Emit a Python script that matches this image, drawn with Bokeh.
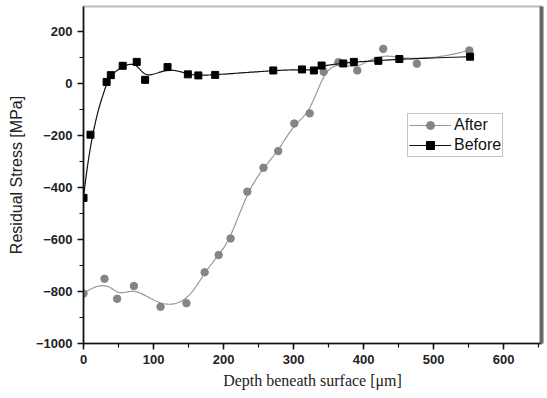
import numpy as np
from bokeh.plotting import figure
from bokeh.models import Range1d, LinearAxis, Legend, LegendItem, FixedTicker
from bokeh.embed import file_html
from bokeh.resources import INLINE

# Data
after_depth = [0, 30, 48, 72, 110, 147, 173, 193, 210, 234, 257, 278, 301, 323, 343, 364, 391, 428, 476, 551]
after_stress = [-808, -751, -828, -779, -859, -845, -726, -660, -596, -416, -324, -260, -154, -115, 45, 82, 50, 133, 76, 127]
before_depth = [0, 10, 33, 39, 56, 76, 88, 120, 149, 164, 188, 271, 312, 329, 340, 371, 386, 421, 451, 552]
before_stress = [-440, -197, 6, 32, 68, 83, 14, 63, 35, 31, 33, 50, 54, 50, 69, 77, 83, 87, 94, 103]

x_ticks = [0, 100, 200, 300, 400, 500, 600]
y_ticks = [-1000, -800, -600, -400, -200, 0, 200]


def bspline(xs, ys, n=400, k=3):
    """Clamped cubic B-spline with the data points as control points (smooth connect line)."""
    P = np.column_stack([xs, ys]).astype(float)
    m = len(P)
    knots = np.concatenate([[0.0] * k, np.arange(m - k + 1, dtype=float), [float(m - k)] * k])
    t = np.linspace(0, m - k, n)
    t[-1] -= 1e-9
    B = np.zeros((n, len(knots) - 1))
    for i in range(len(knots) - 1):
        B[:, i] = (knots[i] <= t) & (t < knots[i + 1])
    for p in range(1, k + 1):
        Bn = np.zeros((n, len(knots) - 1 - p))
        for i in range(len(knots) - 1 - p):
            d1 = knots[i + p] - knots[i]
            d2 = knots[i + p + 1] - knots[i + 1]
            a = (t - knots[i]) / d1 * B[:, i] if d1 > 0 else 0.0
            b = (knots[i + p + 1] - t) / d2 * B[:, i + 1] if d2 > 0 else 0.0
            Bn[:, i] = a + b
        B = Bn
    C = B @ P
    return C[:, 0], C[:, 1]


p = figure(width=547, height=398, output_backend="svg", toolbar_location=None,
           x_range=Range1d(0, 654), y_range=Range1d(-1000, 296),
           min_border_left=83, min_border_right=6, min_border_top=6, min_border_bottom=55)
p.background_fill_color = "white"
p.border_fill_color = "white"
p.outline_line_color = "#bbbbbb"
p.outline_line_width = 2
p.xgrid.visible = False
p.ygrid.visible = False

ax, ay = bspline(after_depth, after_stress)
bx, by = bspline(before_depth, before_stress)

la = p.line(ax, ay, line_color="#999999", line_width=1.2)
sa = p.scatter(after_depth, after_stress, marker="circle", size=7.5,
               fill_color="#858585", line_color="#858585")
lb = p.line(bx, by, line_color="#111111", line_width=1.2)
sb = p.scatter(before_depth, before_stress, marker="square", size=7,
               fill_color="#000000", line_color="#000000")

for axis in (p.xaxis[0], p.yaxis[0]):
    axis.axis_line_color = "#111111"
    axis.axis_line_width = 1.6
    axis.major_tick_line_color = "#111111"
    axis.major_tick_line_width = 1.5
    axis.minor_tick_line_color = "#111111"
    axis.minor_tick_line_width = 1.2
    axis.major_tick_in = 0
    axis.major_tick_out = 6
    axis.minor_tick_in = 0
    axis.minor_tick_out = 4
    axis.major_label_text_font = "Liberation Sans"
    axis.major_label_text_font_style = "bold"
    axis.major_label_text_font_size = "13px"
    axis.major_label_text_color = "#222222"
    axis.major_label_standoff = 5

p.xaxis[0].ticker = FixedTicker(ticks=x_ticks, minor_ticks=list(range(0, 651, 50)))
p.yaxis[0].ticker = FixedTicker(ticks=y_ticks, minor_ticks=list(range(-1000, 301, 100)))

p.xaxis[0].axis_label = "Depth beneath surface [\u03bcm]"
p.xaxis[0].axis_label_text_font = "Liberation Serif"
p.xaxis[0].axis_label_text_font_style = "normal"
p.xaxis[0].axis_label_text_font_size = "16px"
p.xaxis[0].axis_label_text_color = "#222222"
p.xaxis[0].axis_label_standoff = 5

p.yaxis[0].axis_label = "Residual Stress [MPa]"
p.yaxis[0].axis_label_text_font = "Liberation Sans"
p.yaxis[0].axis_label_text_font_style = "normal"
p.yaxis[0].axis_label_text_font_size = "16px"
p.yaxis[0].axis_label_text_color = "#222222"
p.yaxis[0].axis_label_standoff = 8

right = LinearAxis(axis_line_color="#666666", axis_line_width=4,
                   major_tick_line_color=None, minor_tick_line_color=None,
                   major_tick_out=0, minor_tick_out=0, major_label_standoff=0,
                   major_label_text_font_size="0px", major_label_text_color=None)
p.add_layout(right, "right")

legend = Legend(items=[LegendItem(label="After", renderers=[la, sa]),
                       LegendItem(label="Before", renderers=[lb, sb])],
                location=(324, 186), orientation="vertical",
                label_text_font="Liberation Sans", label_text_font_size="16px",
                label_text_color="#111111",
                glyph_width=42, glyph_height=20, label_standoff=3,
                label_height=20, spacing=0, padding=1, margin=0,
                border_line_color="#888888", border_line_width=1,
                background_fill_alpha=1.0)
p.add_layout(legend)

open("out.html", "w").write(file_html(p, INLINE))
